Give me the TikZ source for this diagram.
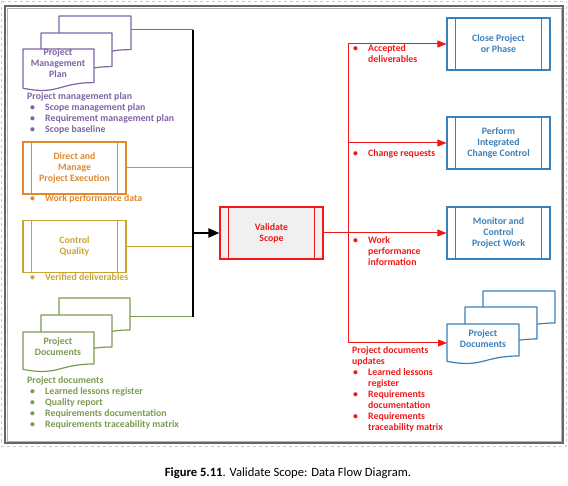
\documentclass[tikz,border=0pt]{standalone}
\usepackage{fontspec}
\setmainfont{Carlito}
\usetikzlibrary{arrows.meta}
\definecolor{cpurple}{HTML}{7E64A6}
\definecolor{corange}{HTML}{E0892E}
\definecolor{cgold}{HTML}{C8A533}
\definecolor{cgreen}{HTML}{7C9A52}
\definecolor{cblue}{HTML}{3A80BA}
\definecolor{cred}{HTML}{F01818}
\newcommand\docpath[4]{% x0, ytop, w, h
  (#1,#2) -- (#1+#3,#2) -- (#1+#3,#2+0.80*#4)
  .. controls (#1+0.5*#3,#2+0.80*#4) and (#1+0.5*#3,#2+1.107*#4) .. (#1,#2+0.934*#4) -- cycle}
\tikzset{
  lbl/.style={font=\bfseries\fontsize{9.8}{11}\selectfont, align=center, inner sep=0pt},
  lst/.style={font=\bfseries\fontsize{9.8}{11}\selectfont, align=left, inner sep=0pt, anchor=north west},
  proc/.style={draw, line width=1.1pt, minimum width=103pt, minimum height=52pt, inner sep=0pt},
  docst/.style={line width=1.2pt, fill=white, line join=round},
  bus/.style={line width=1pt},
  tip/.style={-{Triangle[length=9pt,width=7pt]}},
}
\newcommand\bl{\makebox[15pt][l]{\textbullet}}
\begin{document}
\begin{tikzpicture}[x=1pt,y=-1pt]
\useasboundingbox (0,0) rectangle (568,486);
% frames
\draw[gray!40, dashed, line width=0.6pt] (1.5,1.5) rectangle (566.5,446);
\draw[gray!80!black, line width=1.4pt] (5,6) rectangle (563,443);
\draw[gray!60, line width=0.5pt] (7,8) rectangle (561,441);

% ---------- left: PMP documents
\draw[docst, draw=cpurple] \docpath{59}{16}{72}{42};
\draw[docst, draw=cpurple] \docpath{41}{33}{71}{42};
\draw[docst, draw=cpurple] \docpath{23}{49}{71}{42};
\node[lbl, text=cpurple] (pmp) at (58,63.5) {Project\\Management\\Plan};
\coordinate (pmpR) at (131,30);
\node[lst, text=cpurple] (pmplist) at (27,92) {Project management plan\\
\hspace{3pt}\bl Scope management plan\\
\hspace{3pt}\bl Requirement management plan\\
\hspace{3pt}\bl Scope baseline};

% Direct and manage
\node[proc, draw=corange] (dm) at (74.5,168) {};
\draw[corange, line width=1.1pt] ([xshift=9pt]dm.north west) -- ([xshift=9pt]dm.south west)
  ([xshift=-9pt]dm.north east) -- ([xshift=-9pt]dm.south east);
\node[lbl, text=corange] (dmt) at (dm.center) {Direct and\\Manage\\Project Execution};
\node[lst, text=corange] (dmlist) at (30,194) {\bl Work performance data};

% Control quality
\node[proc, draw=cgold] (cq) at (74.5,246.5) {};
\draw[cgold, line width=1.1pt] ([xshift=9pt]cq.north west) -- ([xshift=9pt]cq.south west)
  ([xshift=-9pt]cq.north east) -- ([xshift=-9pt]cq.south east);
\node[lbl, text=cgold] (cqt) at (cq.center) {Control\\Quality};
\node[lst, text=cgold] (cqlist) at (30,273) {\bl Verified deliverables};

% Project documents (left)
\draw[docst, draw=cgreen] \docpath{59}{298}{71}{40};
\draw[docst, draw=cgreen] \docpath{41}{315}{71}{40};
\draw[docst, draw=cgreen] \docpath{23}{332}{71}{40};
\node[lbl, text=cgreen] (pdl) at (58,346.5) {Project\\Documents};
\coordinate (pdlR) at (130,317);
\node[lst, text=cgreen] (pdlist) at (27,376) {Project documents\\
\hspace{3pt}\bl Learned lessons register\\
\hspace{3pt}\bl Quality report\\
\hspace{3pt}\bl Requirements documentation\\
\hspace{3pt}\bl Requirements traceability matrix};

% ---------- bus
\coordinate (busT) at (193,30);
\coordinate (busB) at (193,317);
\coordinate (busM) at (193,233);
\draw[bus, cpurple] (pmpR) -- (busT);
\draw[bus, corange] (dm.east) -- (193,168);
\draw[bus, cgold] (cq.east) -- (193,246.5);
\draw[bus, cgreen] (pdlR) -- (busB);
\draw[black, line width=2pt] (busT) -- (busB);

% Validate scope
\node[proc, draw=cred, fill=gray!12, minimum width=103pt] (vs) at (271.5,233) {};
\draw[cred, line width=1.1pt] ([xshift=9pt]vs.north west) -- ([xshift=9pt]vs.south west)
  ([xshift=-9pt]vs.north east) -- ([xshift=-9pt]vs.south east);
\node[lbl, text=cred] (vst) at (vs.center) {Validate\\Scope};
\draw[black, line width=2pt, -{Triangle[length=11pt,width=9pt]}] (busM) -- (vs.west);

% ---------- right boxes
\foreach \nm/\yy in {cp/44, pic/143, mc/233}{
  \node[proc, draw=cblue] (\nm) at (498.5,\yy) {};
  \draw[cblue, line width=1.1pt] ([xshift=9pt]\nm.north west) -- ([xshift=9pt]\nm.south west)
    ([xshift=-9pt]\nm.north east) -- ([xshift=-9pt]\nm.south east);
}
\node[lbl, text=cblue] (cpt) at (cp.center) {Close Project\\or Phase};
\node[lbl, text=cblue] (pict) at (pic.center) {Perform\\Integrated\\Change Control};
\node[lbl, text=cblue] (mct) at (mc.center) {Monitor and\\Control\\Project Work};

% Project documents (right)
\draw[docst, draw=cblue] \docpath{483}{291}{72}{40};
\draw[docst, draw=cblue] \docpath{465}{307}{72}{40};
\draw[docst, draw=cblue] \docpath{447}{324}{72}{40};
\node[lbl, text=cblue] (pdr) at (483,338.5) {Project\\Documents};
\coordinate (pdrL) at (447,343);

% ---------- red outputs
\coordinate (rT) at (348,44);
\coordinate (rP) at (348,143);
\coordinate (rB) at (348,343);
\draw[bus, cred] (rT) -- (rB);
\draw[bus, cred, tip] (rT) -- (cp.west);
\draw[bus, cred, tip] (rP) -- (pic.west);
\draw[bus, cred, tip] (vs.east) -- (mc.west);
\draw[bus, cred, tip] (rB) -- (pdrL);

\node[lst, text=cred] (o1) at (353,44) {\bl Accepted\\\hspace{15pt}deliverables};
\node[lst, text=cred] (o2) at (353,149) {\bl Change requests};
\node[lst, text=cred] (o3) at (353,236) {\bl Work\\\hspace{15pt}performance\\\hspace{15pt}information};
\node[lst, text=cred] (o4) at (352,346) {Project documents\\updates\\
\hspace{1pt}\bl Learned lessons\\\hspace{16pt}register\\
\hspace{1pt}\bl Requirements\\\hspace{16pt}documentation\\
\hspace{1pt}\bl Requirements\\\hspace{16pt}traceability matrix};

% caption
\node[font=\fontsize{12.6}{14}\selectfont, inner sep=0pt] (cap) at (288,473) {\textbf{Figure 5.11}. Validate Scope: Data Flow Diagram.};
\end{tikzpicture}
\end{document}
